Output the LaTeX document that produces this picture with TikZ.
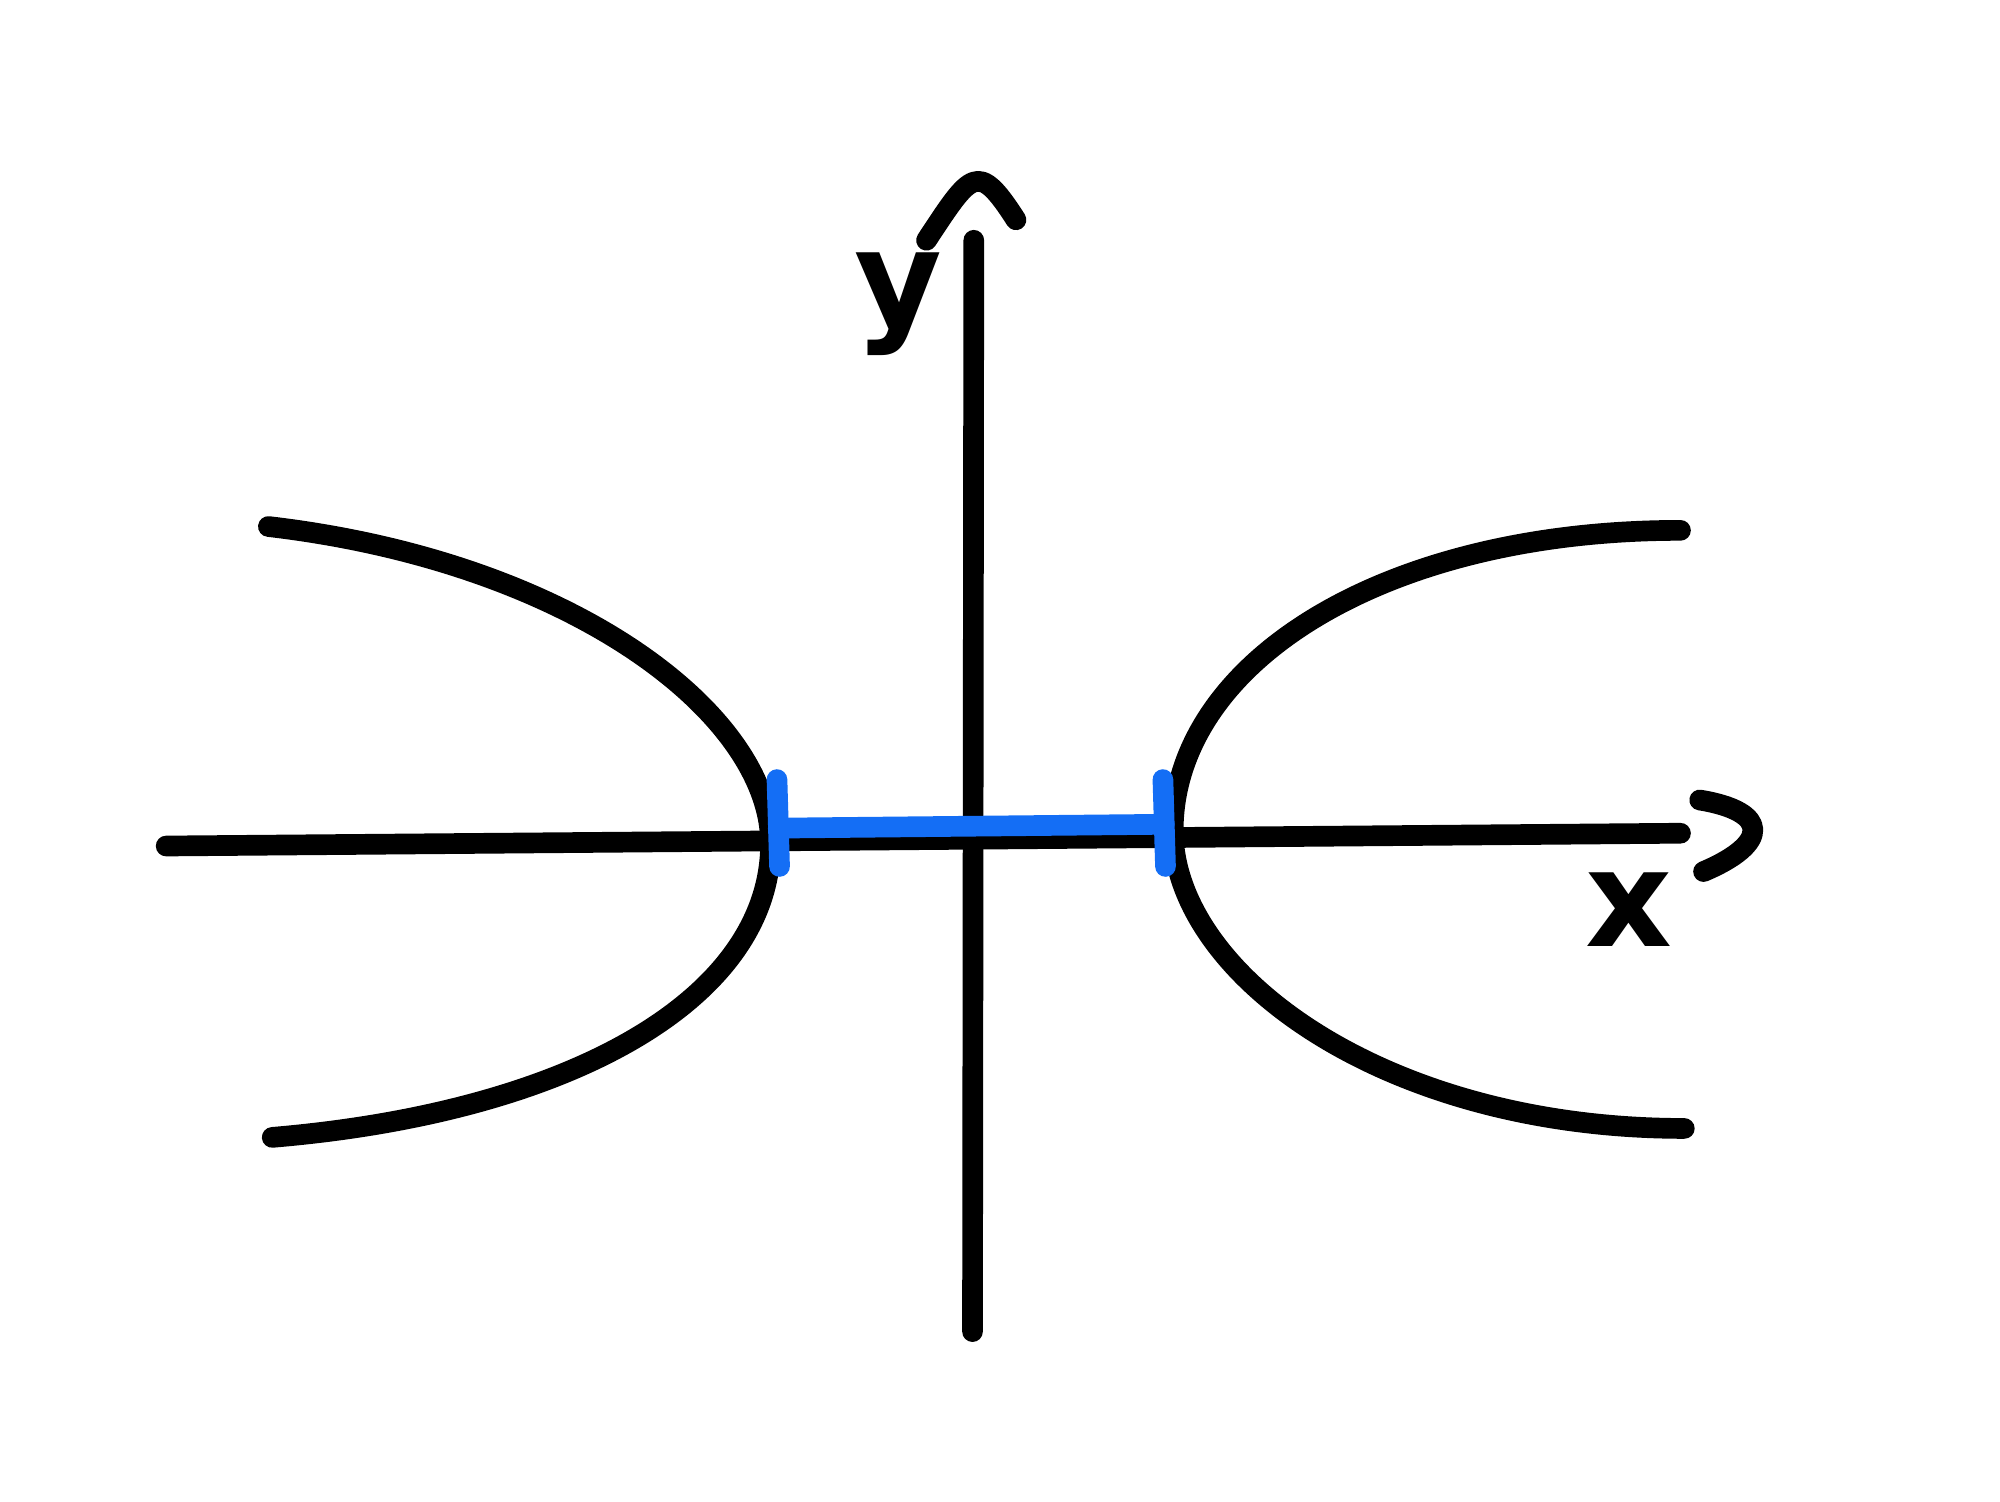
\documentclass[tikz,border=0pt]{standalone}
\usepackage{fontspec}
\setmainfont{DejaVu Sans}
\begin{document}
\begin{tikzpicture}[x=0.01cm,y=-0.01cm,
  pen/.style={line width=4.6pt, line cap=round, line join=round},
  bluepen/.style={pen, draw={rgb,255:red,20;green,110;blue,245}}]
\useasboundingbox (0,0) rectangle (1565,1175);
% Axes
\coordinate (xl) at (130,662);
\coordinate (xr) at (1315,652);
\coordinate (yb) at (761,1042);
\coordinate (yt) at (762,188);
\draw[pen] (xl) -- (xr);
\draw[pen] (yb) -- (yt);
% Hand drawn arrow heads
\draw[pen] (1330,626) .. controls (1385,635) and (1385,660) .. (1333,682);
\draw[pen] (725,188) .. controls (760,135) and (765,125) .. (795,172);
% Axis labels
\node[font=\fontsize{30}{30}\selectfont\bfseries] (ylab) at (703,238) {y};
\node[font=\fontsize{30}{30}\selectfont\bfseries] (xlab) at (1275,712) {x};
% Hyperbola branches
\coordinate (lv) at (603,660);
\coordinate (rv) at (918,650);
\draw[pen] (210,412) .. controls (450,440) and (603,560) .. (lv)
  .. controls (603,780) and (450,870) .. (213,890);
\draw[pen] (1315,415) .. controls (1080,415) and (918,520) .. (rv)
  .. controls (918,760) and (1080,883) .. (1318,883);
% Transverse axis
\coordinate (ba) at (609,648);
\coordinate (bb) at (911,645);
\draw[bluepen] (ba) -- (bb);
\draw[bluepen] (608,610) -- (610,678);
\draw[bluepen] (910,610) -- (912,678);
\end{tikzpicture}
\end{document}
